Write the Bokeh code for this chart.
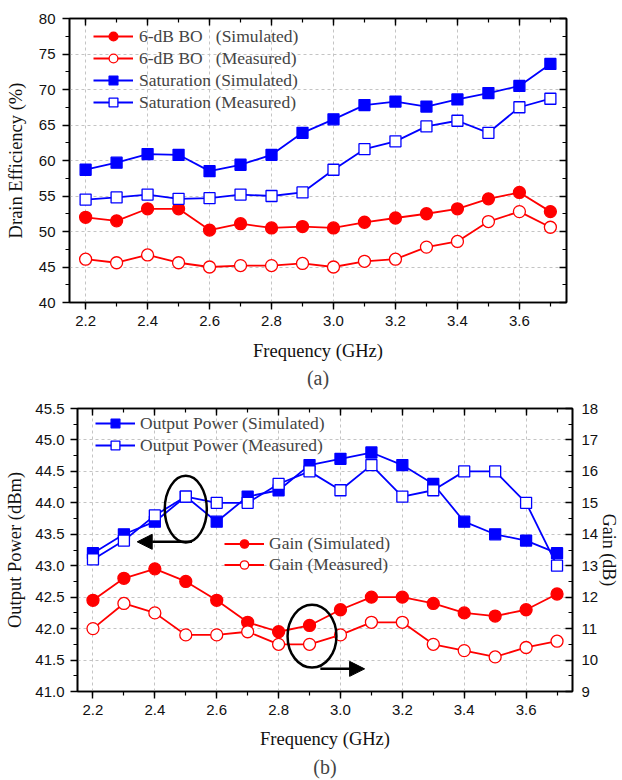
from bokeh.plotting import figure
from bokeh.models import (Range1d, LinearAxis, SingleIntervalTicker, Legend, LegendItem,
                          Title, Arrow, NormalHead, PrintfTickFormatter)
from bokeh.embed import file_html
from bokeh.resources import INLINE

# ---------------- data ----------------
freq = [2.2, 2.3, 2.4, 2.5, 2.6, 2.7, 2.8, 2.9, 3.0, 3.1, 3.2, 3.3, 3.4, 3.5, 3.6, 3.7]

eff_bo_sim = [52.0, 51.5, 53.2, 53.2, 50.2, 51.1, 50.5, 50.7, 50.5, 51.3, 51.9, 52.5, 53.2, 54.6, 55.5, 52.8]
eff_bo_meas = [46.1, 45.6, 46.7, 45.6, 45.0, 45.2, 45.2, 45.5, 45.0, 45.8, 46.1, 47.8, 48.6, 51.4, 52.8, 50.6]
eff_sat_sim = [58.7, 59.7, 60.9, 60.8, 58.5, 59.4, 60.8, 63.9, 65.8, 67.8, 68.3, 67.6, 68.6, 69.5, 70.5, 73.6]
eff_sat_meas = [54.5, 54.8, 55.2, 54.6, 54.7, 55.2, 55.0, 55.5, 58.7, 61.6, 62.7, 64.8, 65.6, 63.9, 67.5, 68.7]

pout_sim = [43.2, 43.5, 43.7, 44.1, 43.7, 44.1, 44.2, 44.6, 44.7, 44.8, 44.6, 44.3, 43.7, 43.5, 43.4, 43.2]
pout_meas = [43.1, 43.4, 43.8, 44.1, 44.0, 44.0, 44.3, 44.5, 44.2, 44.6, 44.1, 44.2, 44.5, 44.5, 44.0, 43.0]
gain_sim = [11.9, 12.6, 12.9, 12.5, 11.9, 11.2, 10.9, 11.1, 11.6, 12.0, 12.0, 11.8, 11.5, 11.4, 11.6, 12.1]
gain_meas = [11.0, 11.8, 11.5, 10.8, 10.8, 10.9, 10.5, 10.5, 10.8, 11.2, 11.2, 10.5, 10.3, 10.1, 10.4, 10.6]

labels_a = ["6-dB BO   (Simulated)", "6-dB BO   (Measured)",
            "Saturation (Simulated)", "Saturation (Measured)"]
labels_b1 = ["Output Power (Simulated)", "Output Power (Measured)"]
labels_b2 = ["Gain (Simulated)", "Gain (Measured)"]

SERIF = "Liberation Serif"
SANS = "Liberation Sans"
RED = "#ff0000"
BLUE = "#0000ff"


def style_axis(ax, labels=True, inward=False):
    ax.axis_line_color = "black"
    ax.axis_line_width = 1.6
    ax.major_tick_line_color = "black"
    ax.minor_tick_line_color = "black"
    ax.major_tick_line_width = 1.4
    ax.minor_tick_line_width = 1.2
    if inward:
        ax.major_tick_in, ax.major_tick_out = 7, 0
        ax.minor_tick_in, ax.minor_tick_out = 4, 0
    else:
        ax.major_tick_in, ax.major_tick_out = 0, 7
        ax.minor_tick_in, ax.minor_tick_out = 0, 4
    ax.major_label_text_font = SANS
    if labels:
        ax.major_label_text_font_size = "15px"
        ax.major_label_text_color = "#111111"
    else:
        ax.major_label_text_font_size = "1px"
        ax.major_label_text_color = None
        ax.major_label_standoff = 0
    ax.axis_label_text_font = SERIF
    ax.axis_label_text_font_size = "18.5px"
    ax.axis_label_text_font_style = "normal"
    ax.axis_label_text_color = "#111111"


def base_fig(height, xr, yr, borders):
    l, r, t, b = borders
    p = figure(width=622, height=height, x_range=xr, y_range=yr,
               output_backend="svg", toolbar_location=None, title_location=None,
               min_border_left=l, min_border_right=r, min_border_top=t, min_border_bottom=b)
    p.outline_line_color = "black"
    p.outline_line_width = 1.6
    p.background_fill_color = "white"
    p.border_fill_color = "white"
    for g in (p.xgrid[0], p.ygrid[0]):
        g.grid_line_color = "#c4c4c4"
        g.grid_line_dash = "3 3"
        g.grid_line_width = 1
    return p


def series(p, x, y, color, marker, filled, size, y_range_name="default"):
    ln = p.line(x, y, line_color=color, line_width=1.8, y_range_name=y_range_name)
    sc = p.scatter(x, y, marker=marker, size=size, line_color=color,
                   fill_color=color if filled else "white",
                   line_width=1.3, y_range_name=y_range_name)
    return [ln, sc]


# ---------------- (a) drain efficiency ----------------
p1 = base_fig(390, Range1d(2.148, 3.752), Range1d(40, 80), (69, 56, 18, 87))
p1.xaxis.ticker = SingleIntervalTicker(interval=0.2, num_minor_ticks=2)
p1.xaxis.formatter = PrintfTickFormatter(format="%.1f")
p1.yaxis.ticker = SingleIntervalTicker(interval=5, num_minor_ticks=2)
p1.xaxis.axis_label = "Frequency (GHz)"
p1.yaxis.axis_label = "Drain Efficiency (%)"
style_axis(p1.xaxis[0])
style_axis(p1.yaxis[0])
p1.xaxis.major_label_standoff = 6
p1.xaxis.axis_label_standoff = 12
p1.yaxis.major_label_standoff = 7
p1.yaxis.axis_label_standoff = 10

top1 = LinearAxis(ticker=SingleIntervalTicker(interval=0.2, num_minor_ticks=2))
right1 = LinearAxis(ticker=SingleIntervalTicker(interval=5, num_minor_ticks=2))
style_axis(top1, labels=False, inward=True)
style_axis(right1, labels=False, inward=True)
p1.add_layout(top1, "above")
p1.add_layout(right1, "right")

r_a = [
    series(p1, freq, eff_bo_sim, RED, "circle", True, 12),
    series(p1, freq, eff_bo_meas, RED, "circle", False, 12),
    series(p1, freq, eff_sat_sim, BLUE, "square", True, 11),
    series(p1, freq, eff_sat_meas, BLUE, "square", False, 11),
]
leg1 = Legend(items=[LegendItem(label=lab, renderers=rr) for lab, rr in zip(labels_a, r_a)],
              location=(24, 189), glyph_width=40, glyph_height=22, label_height=22,
              spacing=0, padding=0, margin=0, border_line_color=None,
              background_fill_alpha=0, label_text_font=SERIF,
              label_text_font_size="17.5px", label_standoff=6)
p1.add_layout(leg1)
p1.add_layout(Title(text="(a)", align="center", text_font=SERIF, text_font_size="20px",
                    text_font_style="normal", standoff=3), "below")

# ---------------- (b) output power & gain ----------------
p2 = base_fig(389, Range1d(2.15, 3.75), Range1d(41.0, 45.5), (77, 50, 18, 87))
p2.extra_y_ranges = {"gain": Range1d(9, 18)}
p2.xaxis.ticker = SingleIntervalTicker(interval=0.2, num_minor_ticks=2)
p2.xaxis.formatter = PrintfTickFormatter(format="%.1f")
p2.yaxis.ticker = SingleIntervalTicker(interval=0.5, num_minor_ticks=2)
p2.yaxis.formatter = PrintfTickFormatter(format="%.1f")
p2.xaxis.axis_label = "Frequency (GHz)"
p2.yaxis.axis_label = "Output Power (dBm)"
style_axis(p2.xaxis[0])
style_axis(p2.yaxis[0])
p2.xaxis.major_label_standoff = 6
p2.xaxis.axis_label_standoff = 11
p2.yaxis.major_label_standoff = 6
p2.yaxis.axis_label_standoff = 7

top2 = LinearAxis(ticker=SingleIntervalTicker(interval=0.2, num_minor_ticks=2))
style_axis(top2, labels=False, inward=True)
p2.add_layout(top2, "above")
right2 = LinearAxis(y_range_name="gain", axis_label="Gain (dB)",
                    ticker=SingleIntervalTicker(interval=1, num_minor_ticks=2))
style_axis(right2, labels=True, inward=True)
right2.major_label_standoff = 9
right2.axis_label_standoff = -2
right2.axis_label_text_font_size = "18px"
p2.add_layout(right2, "right")

r_b1 = [
    series(p2, freq, pout_sim, BLUE, "square", True, 11),
    series(p2, freq, pout_meas, BLUE, "square", False, 11),
]
r_b2 = [
    series(p2, freq, gain_sim, RED, "circle", True, 12, "gain"),
    series(p2, freq, gain_meas, RED, "circle", False, 12, "gain"),
]

# annotation ellipses and arrows
p2.ellipse(x=[2.5], y=[43.9], width=0.136, height=1.06, fill_color=None,
           line_color="black", line_width=2.5)
p2.ellipse(x=[2.908], y=[41.88], width=0.158, height=1.0, fill_color=None,
           line_color="black", line_width=2.5)
p2.add_layout(Arrow(end=NormalHead(size=15, fill_color="black", line_color="black"),
                    x_start=2.52, y_start=43.38, x_end=2.343, y_end=43.38,
                    line_color="black", line_width=2.5))
p2.add_layout(Arrow(end=NormalHead(size=15, fill_color="black", line_color="black"),
                    x_start=2.935, y_start=41.36, x_end=3.078, y_end=41.36,
                    line_color="black", line_width=2.5))

leg2 = Legend(items=[LegendItem(label=lab, renderers=rr) for lab, rr in zip(labels_b1, r_b1)],
              location=(18, 235), glyph_width=40, glyph_height=22, label_height=22,
              spacing=0, padding=0, margin=0, border_line_color=None,
              background_fill_alpha=0, label_text_font=SERIF,
              label_text_font_size="17.5px", label_standoff=5)
leg3 = Legend(items=[LegendItem(label=lab, renderers=rr) for lab, rr in zip(labels_b2, r_b2)],
              location=(147, 116), glyph_width=40, glyph_height=21, label_height=21,
              spacing=0, padding=0, margin=0, border_line_color=None,
              background_fill_alpha=0, label_text_font=SERIF,
              label_text_font_size="17.5px", label_standoff=5)
p2.add_layout(leg2)
p2.add_layout(leg3)
p2.add_layout(Title(text="(b)", align="center", text_font=SERIF, text_font_size="20px",
                    text_font_style="normal", standoff=4), "below")

# two independent roots so that their frames are not aligned to each other
open("out.html", "w").write(file_html([p1, p2], INLINE))
